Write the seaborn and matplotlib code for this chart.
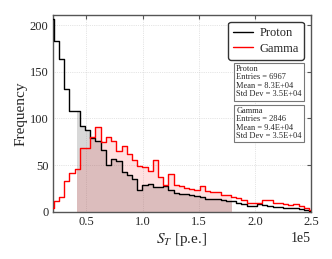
import numpy as np
import pandas as pd
import matplotlib
matplotlib.use("Agg")
import matplotlib.pyplot as plt
import seaborn as sns
from matplotlib.lines import Line2D

# histogram binning (S_T in p.e.)
bin_start = 16260
bin_width = 4640
n_bins = 51

# bin contents
proton_counts = [207, 183, 164, 132, 108, 108, 92, 88, 79, 76, 66, 50, 56, 54, 42, 39,
                 35, 23, 29, 30, 26, 26, 27, 23, 20, 19, 19, 18, 17, 16, 14, 13, 13,
                 12, 11, 11, 9, 8, 6, 6, 8, 7, 6, 5, 5, 4, 4, 4, 3, 2, 1]
gamma_counts = [4, 11, 16, 33, 41, 46, 68, 68, 80, 91, 75, 80, 76, 65, 70, 62,
                55, 49, 48, 44, 55, 37, 29, 40, 29, 28, 25, 24, 23, 27, 22, 21, 21,
                18, 18, 16, 15, 12, 9, 9, 9, 12, 12, 9, 9, 8, 7, 8, 6, 4, 2]

# shaded cut window
cut_lo, cut_hi = 42000, 180000

proton_stats = "Proton\nEntries = 6967\nMean = 8.3E+04\nStd Dev = 3.5E+04"
gamma_stats = "Gamma\nEntries = 2846\nMean = 9.4E+04\nStd Dev = 3.5E+04"

edges = bin_start + bin_width * np.arange(n_bins + 1)
centers = (edges[:-1] + edges[1:]) / 2
df = pd.DataFrame({"st": centers, "proton": proton_counts, "gamma": gamma_counts})

sns.set_style("white")
plt.rcParams["font.family"] = "serif"
plt.rcParams["font.serif"] = ["Liberation Serif", "DejaVu Serif"]
plt.rcParams["mathtext.fontset"] = "stix"

fig = plt.figure(figsize=(3.32, 2.59), dpi=100)
ax = fig.add_axes([0.159, 0.183, 0.778, 0.759])


def fill_window(counts, color, alpha):
    inner = edges[(edges > cut_lo) & (edges < cut_hi)]
    xs = np.concatenate([[cut_lo], inner, [cut_hi]])
    idx = np.clip(np.searchsorted(edges, xs, side="right") - 1, 0, len(counts) - 1)
    ys = np.asarray(counts)[idx]
    ax.fill_between(xs, ys, step="post", color=color, alpha=alpha, lw=0, zorder=1)


fill_window(proton_counts, "gray", 0.3)
fill_window(gamma_counts, "red", 0.12)

sns.histplot(data=df, x="st", weights="proton", bins=edges.tolist(), element="step",
             fill=False, color="black", linewidth=1.0, ax=ax, zorder=3)
sns.histplot(data=df, x="st", weights="gamma", bins=edges.tolist(), element="step",
             fill=False, color="red", linewidth=1.0, ax=ax, zorder=3)

ax.set_xlim(20000, 250000)
ax.set_ylim(0, 211)
ax.set_xticks([50000, 100000, 150000, 200000, 250000])
ax.set_yticks([0, 50, 100, 150, 200])
ax.ticklabel_format(axis="x", style="sci", scilimits=(0, 0))
ax.grid(True, ls=":", lw=0.5, color="#cccccc")
ax.tick_params(direction="in", top=True, right=True, length=3, width=0.8,
               color="#555555", labelsize=9, pad=3)
for s in ax.spines.values():
    s.set_color("#555555")
    s.set_linewidth(1.0)

ax.set_xlabel(r"$S_T$ [p.e.]", fontsize=11, labelpad=2)
ax.set_ylabel("Frequency", fontsize=11, labelpad=2)

handles = [Line2D([0], [0], color="black", lw=1.0),
           Line2D([0], [0], color="red", lw=1.0)]
ax.legend(handles, ["Proton", "Gamma"], loc="upper right",
          bbox_to_anchor=(0.972, 0.965), borderaxespad=0, fontsize=9,
          handlelength=1.6, handletextpad=0.5, labelspacing=0.3,
          frameon=True, fancybox=True, edgecolor="#333333", framealpha=1)

box = dict(boxstyle="square,pad=0.3", fc="white", ec="#777777", lw=0.8)
ax.text(0.71, 0.745, proton_stats, transform=ax.transAxes, ha="left", va="top",
        fontsize=6, linespacing=1.05, bbox=box, zorder=5)
ax.text(0.71, 0.532, gamma_stats, transform=ax.transAxes, ha="left", va="top",
        fontsize=6, linespacing=1.05, bbox=box, zorder=5)

fig.savefig("out.png", dpi=100)
